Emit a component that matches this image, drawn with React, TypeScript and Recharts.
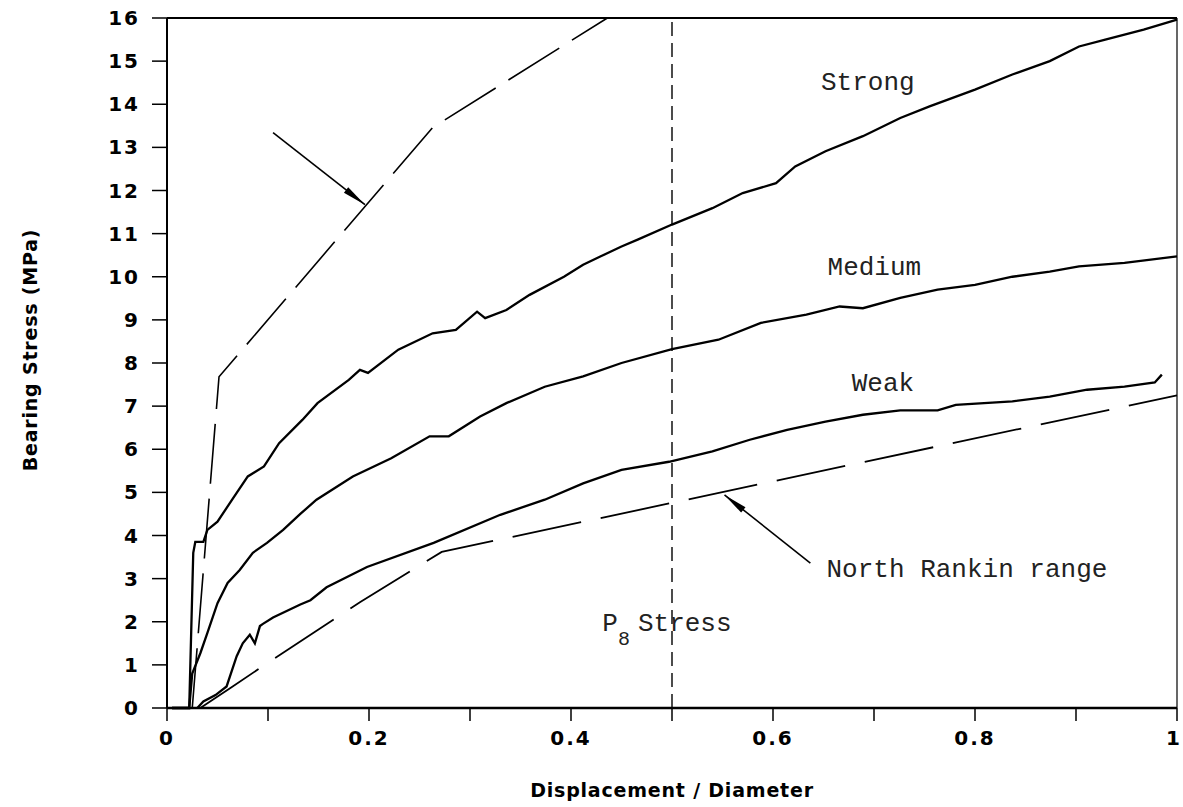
import React from "react";
import {
  LineChart,
  Line,
  XAxis,
  YAxis,
  ReferenceLine,
  ReferenceDot,
  Label,
} from "recharts";

// Bearing stress vs normalised displacement, read as [displacement/diameter, MPa]
const strong: [number, number][] = [
  [0.005, 0], [0.022, 0], [0.026, 3.6], [0.028, 3.85], [0.036, 3.85], [0.04, 4.13],
  [0.05, 4.32], [0.065, 4.85], [0.08, 5.37], [0.096, 5.6], [0.111, 6.14], [0.134, 6.68],
  [0.149, 7.07], [0.18, 7.61], [0.191, 7.84], [0.199, 7.77], [0.229, 8.31], [0.263, 8.69],
  [0.286, 8.77], [0.307, 9.19], [0.315, 9.04], [0.336, 9.23], [0.359, 9.58], [0.393, 10.0],
  [0.412, 10.28], [0.429, 10.47], [0.45, 10.7], [0.466, 10.86], [0.5, 11.21], [0.54, 11.59],
  [0.57, 11.94], [0.603, 12.17], [0.622, 12.56], [0.652, 12.91], [0.689, 13.26], [0.726, 13.68],
  [0.755, 13.95], [0.8, 14.34], [0.837, 14.69], [0.874, 15.0], [0.903, 15.34], [0.929, 15.5],
  [0.967, 15.73], [1.0, 15.96],
];

const medium: [number, number][] = [
  [0.005, 0], [0.022, 0], [0.025, 0.8], [0.033, 1.27], [0.04, 1.74], [0.05, 2.43],
  [0.06, 2.9], [0.072, 3.2], [0.085, 3.6], [0.099, 3.83], [0.115, 4.13], [0.132, 4.5],
  [0.148, 4.83], [0.184, 5.37], [0.222, 5.79], [0.26, 6.3], [0.279, 6.3], [0.31, 6.76],
  [0.336, 7.07], [0.374, 7.45], [0.412, 7.69], [0.45, 8.0], [0.5, 8.32], [0.546, 8.54],
  [0.588, 8.93], [0.633, 9.12], [0.666, 9.31], [0.689, 9.27], [0.726, 9.51], [0.763, 9.7],
  [0.8, 9.81], [0.837, 10.0], [0.874, 10.12], [0.903, 10.24], [0.948, 10.32], [1.0, 10.47],
];

const weak: [number, number][] = [
  [0.03, 0], [0.036, 0.15], [0.048, 0.3], [0.059, 0.5], [0.069, 1.2], [0.075, 1.5],
  [0.082, 1.7], [0.087, 1.5], [0.092, 1.9], [0.095, 1.95], [0.105, 2.1], [0.132, 2.4],
  [0.142, 2.5], [0.158, 2.8], [0.198, 3.27], [0.264, 3.83], [0.33, 4.48], [0.374, 4.83],
  [0.412, 5.21], [0.45, 5.52], [0.497, 5.71], [0.54, 5.95], [0.577, 6.22], [0.614, 6.45],
  [0.652, 6.64], [0.689, 6.8], [0.726, 6.9], [0.763, 6.9], [0.781, 7.03], [0.837, 7.11],
  [0.874, 7.22], [0.911, 7.38], [0.948, 7.45], [0.978, 7.55], [0.985, 7.73],
];

// North Rankin range envelope (upper and lower bounds)
const rankinUpper: [number, number][] = [
  [0.025, 0], [0.0515, 7.68], [0.263, 13.46], [0.436, 16],
];
const rankinLower: [number, number][] = [
  [0.033, 0], [0.065, 0.5], [0.1, 1.05], [0.191, 2.45], [0.272, 3.62], [1.0, 7.25],
];

const xTicks = [0, 0.1, 0.2, 0.3, 0.4, 0.5, 0.6, 0.7, 0.8, 0.9, 1];
const yTicks = [0, 1, 2, 3, 4, 5, 6, 7, 8, 9, 10, 11, 12, 13, 14, 15, 16];

const toPoints = (rows: [number, number][]) => rows.map(([x, y]) => ({ x, y }));

const axisFont = {
  fontFamily: "DejaVu Sans, sans-serif",
  fontSize: 20,
  fontWeight: "bold",
  fill: "#000",
  letterSpacing: 2,
};

const titleFont = {
  fontFamily: "DejaVu Sans, sans-serif",
  fontSize: 19,
  fontWeight: "bold",
  fill: "#000",
  letterSpacing: 0.8,
};

const noteFont = {
  fontFamily: "Liberation Mono, monospace",
  fontSize: 26,
  fill: "#222",
};

const formatX = (v: number) => {
  const tenths = Math.round(v * 10);
  if (tenths % 2 !== 0) return "";
  if (tenths === 0) return "0";
  if (tenths === 10) return "1";
  return v.toFixed(1);
};

// x tick text; the last one hugs the right edge so it stays on the page
const XTick = (props: any) => {
  const { x, y, payload } = props;
  const last = payload.value === 1;
  return (
    <text
      x={last ? x + 5 : x}
      y={y}
      dy="0.71em"
      textAnchor={last ? "end" : "middle"}
      {...axisFont}
    >
      {formatX(payload.value)}
    </text>
  );
};

// line with a filled head at the second point
const Arrow = (props: any) => {
  const { x1, y1, x2, y2 } = props;
  const dx = x2 - x1;
  const dy = y2 - y1;
  const len = Math.sqrt(dx * dx + dy * dy) || 1;
  const ux = dx / len;
  const uy = dy / len;
  const hl = 24;
  const hw = 3.5;
  const bx = x2 - ux * hl;
  const by = y2 - uy * hl;
  const head = `${x2},${y2} ${bx - uy * hw},${by + ux * hw} ${bx + uy * hw},${by - ux * hw}`;
  return (
    <g>
      <line x1={x1} y1={y1} x2={x2} y2={y2} stroke="#000" strokeWidth={1.6} />
      <polygon points={head} fill="#000" />
    </g>
  );
};

const note = (text: string) => (p: any) => (
  <text x={p.cx} y={p.cy} {...noteFont}>
    {text}
  </text>
);

const p8Note = (p: any) => (
  <text x={p.cx} y={p.cy} {...noteFont}>
    P
    <tspan fontSize={20} dy={14}>8</tspan>
    <tspan dy={-14} dx={8}>Stress</tspan>
  </text>
);

export default function App() {
  return (
    <div style={{ position: "fixed", left: 0, top: 0, background: "#fff" }}>
      <LineChart
        width={1183}
        height={807}
        margin={{ top: 18, right: 6, left: 77, bottom: 39 }}
      >
        <XAxis
          type="number"
          dataKey="x"
          domain={[0, 1]}
          ticks={xTicks}
          allowDuplicatedCategory={false}
          height={60}
          tickSize={13}
          tickMargin={10}
          axisLine={{ stroke: "#000", strokeWidth: 2.5 }}
          tickLine={{ stroke: "#000", strokeWidth: 1.5 }}
          tick={XTick}
        >
          <Label
            content={({ viewBox }: any) => (
              <text
                x={viewBox.x + viewBox.width / 2}
                y={viewBox.y + 89}
                textAnchor="middle"
                {...titleFont}
              >
                Displacement / Diameter
              </text>
            )}
          />
        </XAxis>
        <YAxis
          type="number"
          dataKey="y"
          domain={[0, 16]}
          ticks={yTicks}
          interval={0}
          width={90}
          tickSize={15}
          tickMargin={12}
          axisLine={{ stroke: "#000", strokeWidth: 2 }}
          tickLine={{ stroke: "#000", strokeWidth: 1.5 }}
          tick={axisFont}
        >
          <Label
            content={({ viewBox }: any) => {
              const cx = viewBox.x - 40;
              const cy = 350;
              return (
                <text
                  x={cx}
                  y={cy}
                  textAnchor="middle"
                  transform={`rotate(-90 ${cx} ${cy})`}
                  {...titleFont}
                >
                  Bearing Stress (MPa)
                </text>
              );
            }}
          />
        </YAxis>

        {/* frame on top and right */}
        <ReferenceLine y={16} stroke="#000" strokeWidth={2} />
        <ReferenceLine x={1} stroke="#000" strokeWidth={1.2} />

        {/* P8 stress marker */}
        <ReferenceLine x={0.5} stroke="#000" strokeWidth={1.4} strokeDasharray="14 7" />

        <Line
          data={toPoints(rankinUpper)}
          dataKey="y"
          type="linear"
          stroke="#000"
          strokeWidth={1.6}
          strokeDasharray="60 15"
          dot={false}
          isAnimationActive={false}
        />
        <Line
          data={toPoints(rankinLower)}
          dataKey="y"
          type="linear"
          stroke="#000"
          strokeWidth={1.8}
          strokeDasharray="70 20"
          dot={false}
          isAnimationActive={false}
        />
        <Line
          data={toPoints(strong)}
          dataKey="y"
          type="linear"
          stroke="#000"
          strokeWidth={2.3}
          dot={false}
          isAnimationActive={false}
        />
        <Line
          data={toPoints(medium)}
          dataKey="y"
          type="linear"
          stroke="#000"
          strokeWidth={2.3}
          dot={false}
          isAnimationActive={false}
        />
        <Line
          data={toPoints(weak)}
          dataKey="y"
          type="linear"
          stroke="#000"
          strokeWidth={2.3}
          dot={false}
          isAnimationActive={false}
        />

        {/* arrows pointing at the North Rankin bounds */}
        <ReferenceLine
          segment={[{ x: 0.105, y: 13.34 }, { x: 0.196, y: 11.67 }]}
          shape={Arrow}
        />
        <ReferenceLine
          segment={[{ x: 0.637, y: 3.36 }, { x: 0.552, y: 4.94 }]}
          shape={Arrow}
        />

        <ReferenceDot x={0.6475} y={14.34} r={0} ifOverflow="visible" shape={note("Strong")} />
        <ReferenceDot x={0.654} y={10.05} r={0} ifOverflow="visible" shape={note("Medium")} />
        <ReferenceDot x={0.678} y={7.36} r={0} ifOverflow="visible" shape={note("Weak")} />
        <ReferenceDot x={0.653} y={3.04} r={0} ifOverflow="visible" shape={note("North Rankin range")} />
        <ReferenceDot x={0.431} y={1.79} r={0} ifOverflow="visible" shape={p8Note} />
      </LineChart>
    </div>
  );
}
